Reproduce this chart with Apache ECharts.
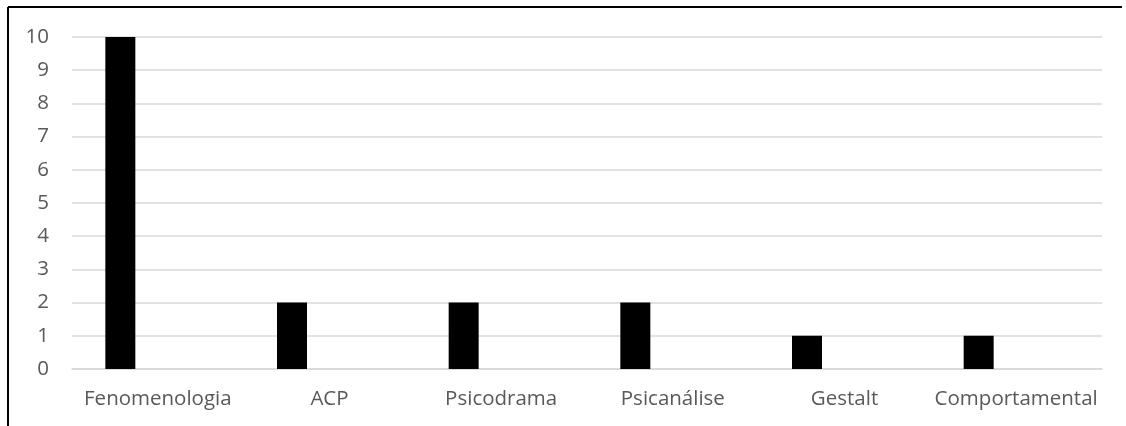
<!DOCTYPE html>
<html>
<head>
<meta charset="utf-8">
<script src="https://cdn.jsdelivr.net/npm/echarts@6/dist/echarts.min.js"></script>
<style>
  html, body { margin: 0; padding: 0; background: #fff; }
  #chart { width: 1126px; height: 426px; }
</style>
</head>
<body>
<div id="chart"></div>
<script>
// Abordagens teóricas e número de ocorrências
const categories = ['Fenomenologia', 'ACP', 'Psicodrama', 'Psicanálise', 'Gestalt', 'Comportamental'];
const counts = [10, 2, 2, 2, 1, 1];
// Second (empty) series keeps bars shifted to the left of each slot
const emptySeries = [null, null, null, null, null, null];

const chart = echarts.init(document.getElementById('chart'));
const textColor = '#595959';
const fontFamily = '"Open Sans", "Noto Sans", sans-serif';

chart.setOption({
  animation: false,
  grid: { left: 72, right: 24, top: 37, bottom: 57, containLabel: false },
  xAxis: {
    type: 'category',
    data: categories,
    axisTick: { show: false },
    axisLine: { show: true, lineStyle: { color: '#d9d9d9', width: 1.5 } },
    axisLabel: { color: textColor, fontSize: 20.5, fontFamily: fontFamily, margin: 20, interval: 0 }
  },
  yAxis: {
    type: 'value',
    min: 0,
    max: 10,
    interval: 1,
    axisLine: { show: false },
    axisTick: { show: false },
    axisLabel: { color: textColor, fontSize: 20.5, fontFamily: fontFamily, margin: 23 },
    splitLine: { lineStyle: { color: '#d9d9d9', width: 1.5 } }
  },
  series: [
    { type: 'bar', data: counts, barWidth: 30, barGap: '150%', itemStyle: { color: '#000' } },
    { type: 'bar', data: emptySeries, barWidth: 30, itemStyle: { color: '#000' } }
  ],
  graphic: [
    { type: 'line', shape: { x1: 8, y1: 7, x2: 1122, y2: 7 }, style: { stroke: '#000', lineWidth: 2 } },
    { type: 'line', shape: { x1: 8, y1: 7, x2: 8, y2: 426 }, style: { stroke: '#000', lineWidth: 2 } }
  ]
});
</script>
</body>
</html>
